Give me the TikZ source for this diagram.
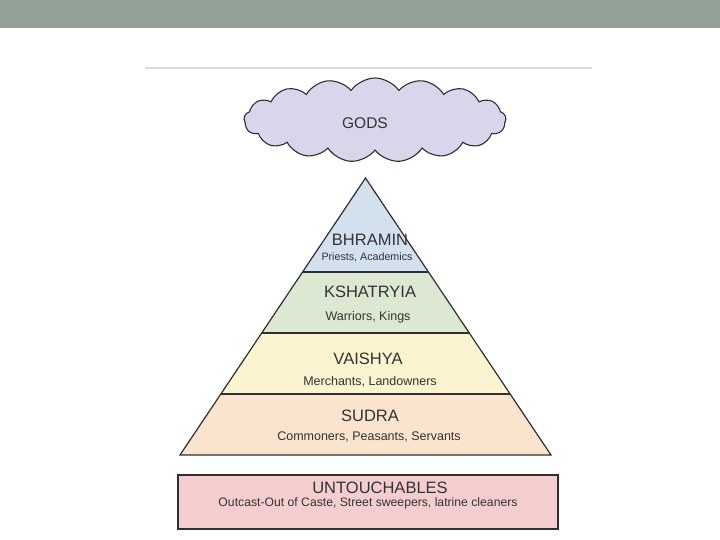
\documentclass[tikz,border=0pt]{standalone}
\usepackage{fontspec}
\setmainfont{Liberation Sans}
\usepackage{tikz}
\usetikzlibrary{shapes.symbols}

\definecolor{band}{HTML}{92A096}
\definecolor{rulegrey}{HTML}{DCDCDC}
\definecolor{edge}{HTML}{2E2E33}
\definecolor{ink}{HTML}{333333}
\definecolor{cloudfill}{HTML}{D8D6EB}
\definecolor{bhrfill}{HTML}{D3E0EE}
\definecolor{kshfill}{HTML}{DDE8D2}
\definecolor{vaifill}{HTML}{FCF3D0}
\definecolor{sudfill}{HTML}{FAE4CD}
\definecolor{untfill}{HTML}{F4CECE}

\tikzset{
    title/.style={font=\fontsize{16.5}{19}\selectfont, text=ink, inner sep=0pt},
    sub/.style={font=\fontsize{12.5}{15}\selectfont, text=ink, inner sep=0pt},
}

\begin{document}
\begin{tikzpicture}[x=1pt,y=-1pt]
    \useasboundingbox (0,0) rectangle (720,540);

    % Header band and rule
    \fill[band] (0,0) rectangle (720,28);
    \draw[rulegrey, line width=1.5pt] (145,68) -- (592,68);

    % The cloud
    \node[cloud, cloud puffs=17, cloud puff arc=110, aspect=3.1, draw=edge,
          fill=cloudfill, line width=1.1pt, minimum width=262pt,
          minimum height=84pt, inner sep=0pt] (cloud) at (375,120) {};
    \node[title, font=\fontsize{15.5}{18}\selectfont] (gods) at (365,123) {GODS};

    % Corners of the pyramid and its tiers
    \coordinate (apex) at (365.5,178);
    \coordinate (l1) at (302.6,272);  \coordinate (r1) at (428.4,272);
    \coordinate (l2) at (261.7,333);  \coordinate (r2) at (469.3,333);
    \coordinate (l3) at (220.9,394);  \coordinate (r3) at (510.1,394);
    \coordinate (bl) at (180,455);    \coordinate (br) at (551,455);

    % Fill the tiers
    \fill[bhrfill] (apex) -- (r1) -- (l1) -- cycle;
    \fill[kshfill] (l1) -- (r1) -- (r2) -- (l2) -- cycle;
    \fill[vaifill] (l2) -- (r2) -- (r3) -- (l3) -- cycle;
    \fill[sudfill] (l3) -- (r3) -- (br) -- (bl) -- cycle;

    % Outline and dividers
    \draw[edge, line width=1.2pt, line join=miter] (apex) -- (br) -- (bl) -- cycle;
    \draw[edge, line width=1.2pt] (l1) -- (r1);
    \draw[edge, line width=1.2pt] (l2) -- (r2);
    \draw[edge, line width=1.2pt] (l3) -- (r3);

    % Labels of the tiers
    \node[title] (bhramin) at (370,240) {BHRAMIN};
    \node[sub, font=\fontsize{10.7}{13}\selectfont] (bhraminsub) at (367,257) {Priests, Academics};
    \node[title] (kshatryia) at (370,292) {KSHATRYIA};
    \node[sub] (kshatryiasub) at (368,317) {Warriors, Kings};
    \node[title] (vaishya) at (368,359) {VAISHYA};
    \node[sub] (vaishyasub) at (370,382) {Merchants, Landowners};
    \node[title] (sudra) at (370,416) {SUDRA};
    \node[sub] (sudrasub) at (369,437) {Commoners, Peasants, Servants};

    % The box below
    \draw[edge, fill=untfill, line width=1.2pt] (178,475) rectangle (558,529);
    \node[title] (untouch) at (380,488) {UNTOUCHABLES};
    \node[sub, font=\fontsize{12.2}{14}\selectfont] (untouchsub) at (368,503) {Outcast-Out of Caste, Street sweepers, latrine cleaners};

\end{tikzpicture}
\end{document}
